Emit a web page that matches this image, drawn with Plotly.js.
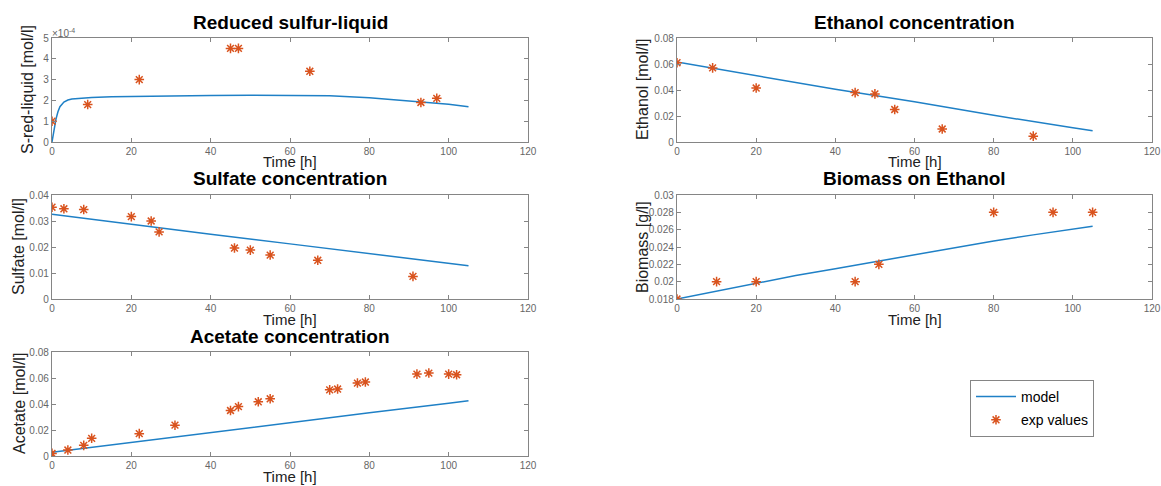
<!DOCTYPE html>
<html>
<head>
<meta charset="utf-8">
<script src="https://cdn.plot.ly/plotly-3.0.1.min.js"></script>
<style>html,body{margin:0;padding:0;background:#fff;}#chart{width:1161px;height:486px;}</style>
</head>
<body>
<div id="chart"></div>
<script>
// ---- Data ----
const timeTicks = [0, 20, 40, 60, 80, 100, 120];

// Reduced sulfur-liquid [mol/l]
const sredModelT = [0, 0.5, 1, 1.5, 2, 3, 4, 5, 7, 10, 15, 20, 30, 40, 50, 60, 70, 80, 90, 100, 105];
const sredModelY = [0, 0.6e-4, 1.1e-4, 1.45e-4, 1.7e-4, 1.92e-4, 2.02e-4, 2.07e-4, 2.11e-4, 2.14e-4, 2.17e-4, 2.19e-4, 2.22e-4, 2.24e-4, 2.25e-4, 2.25e-4, 2.22e-4, 2.13e-4, 1.98e-4, 1.82e-4, 1.70e-4];
const sredExpT = [0, 9, 22, 45, 47, 65, 93, 97];
const sredExpY = [1.0e-4, 1.8e-4, 3.0e-4, 4.5e-4, 4.5e-4, 3.4e-4, 1.9e-4, 2.1e-4];
const sredTickVals = [0, 1e-4, 2e-4, 3e-4, 4e-4, 5e-4];
const sredTickText = ['0', '1', '2', '3', '4', '5'];

// Ethanol [mol/l]
const ethModelT = [0, 20, 40, 60, 80, 100, 105];
const ethModelY = [0.0615, 0.051, 0.0405, 0.031, 0.0205, 0.011, 0.0087];
const ethExpT = [0, 9, 20, 45, 50, 55, 67, 90];
const ethExpY = [0.061, 0.057, 0.0415, 0.038, 0.037, 0.025, 0.010, 0.0045];
const ethTickVals = [0, 0.02, 0.04, 0.06, 0.08];
const ethTickText = ['0', '0.02', '0.04', '0.06', '0.08'];

// Sulfate [mol/l]
const sulModelT = [0, 20, 40, 60, 80, 100, 105];
const sulModelY = [0.0326, 0.0287, 0.0249, 0.0212, 0.0175, 0.0137, 0.0128];
const sulExpT = [0, 3, 8, 20, 25, 27, 46, 50, 55, 67, 91];
const sulExpY = [0.0353, 0.0347, 0.0344, 0.0317, 0.030, 0.0258, 0.0196, 0.0188, 0.0169, 0.0149, 0.0087];
const sulTickVals = [0, 0.01, 0.02, 0.03, 0.04];
const sulTickText = ['0', '0.01', '0.02', '0.03', '0.04'];

// Biomass on Ethanol [g/l]
const bioModelT = [0, 10, 20, 30, 40, 50, 60, 70, 80, 90, 100, 105];
const bioModelY = [0.018, 0.0189, 0.0198, 0.0207, 0.0215, 0.0223, 0.0231, 0.0239, 0.0247, 0.0254, 0.0261, 0.0264];
const bioExpT = [0, 10, 20, 45, 51, 80, 95, 105];
const bioExpY = [0.018, 0.020, 0.020, 0.020, 0.022, 0.028, 0.028, 0.028];
const bioTickVals = [0.018, 0.02, 0.022, 0.024, 0.026, 0.028, 0.03];
const bioTickText = ['0.018', '0.02', '0.022', '0.024', '0.026', '0.028', '0.03'];

// Acetate [mol/l]
const aceModelT = [0, 20, 40, 60, 80, 100, 105];
const aceModelY = [0.0028, 0.0105, 0.0183, 0.0258, 0.0332, 0.0406, 0.0425];
const aceExpT = [0, 4, 8, 10, 22, 31, 45, 47, 52, 55, 70, 72, 77, 79, 92, 95, 100, 102];
const aceExpY = [0.002, 0.0046, 0.0082, 0.0136, 0.0172, 0.0237, 0.035, 0.038, 0.0417, 0.044, 0.0509, 0.0515, 0.0561, 0.0569, 0.063, 0.0638, 0.063, 0.0625];
const aceTickVals = [0, 0.02, 0.04, 0.06, 0.08];
const aceTickText = ['0', '0.02', '0.04', '0.06', '0.08'];

const titles = ['Reduced sulfur-liquid', 'Ethanol concentration', 'Sulfate concentration', 'Biomass on Ethanol', 'Acetate concentration'];
const yLabels = ['S-red-liquid [mol/l]', 'Ethanol [mol/l]', 'Sulfate [mol/l]', 'Biomass [g/l]', 'Acetate [mol/l]'];
const xLabel = 'Time [h]';
const legendNames = ['model', 'exp values'];

// ---- Styling / layout ----
const W = 1161, H = 486;
const FONT = 'Liberation Sans, Arial, Helvetica, sans-serif';
const lineColor = '#1f80c6';
const starColor = '#d9531e';
const axisColor = '#858585';
const tickFontColor = '#666666';

// pixel boxes of each axes [left, right, top, bottom]
const boxes = [
  [52, 528, 38, 142],
  [677, 1152, 38, 142],
  [52, 528, 195, 299],
  [677, 1152, 195, 299],
  [52, 528, 352, 456]
];
const yRanges = [[0, 5e-4], [0, 0.08], [0, 0.04], [0.018, 0.03], [0, 0.08]];
const yTV = [sredTickVals, ethTickVals, sulTickVals, bioTickVals, aceTickVals];
const yTT = [sredTickText, ethTickText, sulTickText, bioTickText, aceTickText];
const yLabelX = [28, 643, 19, 643, 19];

const series = [
  [sredModelT, sredModelY, sredExpT, sredExpY],
  [ethModelT, ethModelY, ethExpT, ethExpY],
  [sulModelT, sulModelY, sulExpT, sulExpY],
  [bioModelT, bioModelY, bioExpT, bioExpY],
  [aceModelT, aceModelY, aceExpT, aceExpY]
];

const traces = [];
const layout = {
  width: W, height: H,
  margin: {l: 0, r: 0, t: 0, b: 0},
  paper_bgcolor: '#fff', plot_bgcolor: '#fff',
  font: {family: FONT, color: '#000'},
  showlegend: true,
  legend: {
    x: 970 / W, y: 1 - 380 / H, xanchor: 'left', yanchor: 'top',
    bordercolor: axisColor, borderwidth: 1, bgcolor: '#fff',
    font: {family: FONT, size: 14, color: '#000'},
    itemwidth: 40, tracegroupgap: 2
  },
  annotations: []
};

series.forEach((s, i) => {
  const n = i === 0 ? '' : String(i + 1);
  const b = boxes[i];
  traces.push({
    x: s[0], y: s[1], xaxis: 'x' + n, yaxis: 'y' + n, type: 'scatter', mode: 'lines',
    line: {color: lineColor, width: 1.5}, name: legendNames[0], showlegend: i === 0, legendgroup: 'm'
  });
  traces.push({
    x: s[2], y: s[3], xaxis: 'x' + n, yaxis: 'y' + n, type: 'scatter', mode: 'markers',
    marker: {symbol: 'asterisk-open', size: 8, color: starColor, line: {color: starColor, width: 1.5}},
    name: legendNames[1], showlegend: i === 0, legendgroup: 'e'
  });
  const common = {
    showgrid: false, zeroline: false, showline: true, linecolor: axisColor, linewidth: 1.2,
    mirror: 'ticks', ticks: 'inside', ticklen: 4, tickcolor: axisColor, tickwidth: 1,
    tickfont: {family: FONT, size: 10, color: tickFontColor}
  };
  layout['xaxis' + n] = Object.assign({}, common, {
    domain: [b[0] / W, b[1] / W], range: [0, 120], anchor: 'y' + n,
    tickvals: timeTicks, ticktext: timeTicks.map(String)
  });
  layout['yaxis' + n] = Object.assign({}, common, {
    domain: [1 - b[3] / H, 1 - b[2] / H], range: yRanges[i], anchor: 'x' + n,
    tickvals: yTV[i], ticktext: yTT[i]
  });
  // subplot title
  layout.annotations.push({
    text: titles[i], xref: 'paper', yref: 'paper', x: ((b[0] + b[1]) / 2) / W, y: 1 - (b[2] - 16) / H,
    xanchor: 'center', yanchor: 'middle', showarrow: false,
    font: {family: FONT, size: 19, weight: 'bold', color: '#000'}
  });
  // x label
  layout.annotations.push({
    text: xLabel, xref: 'paper', yref: 'paper', x: ((b[0] + b[1]) / 2) / W, y: 1 - (b[3] + 20) / H,
    xanchor: 'center', yanchor: 'middle', showarrow: false,
    font: {family: FONT, size: 15, color: '#222'}
  });
  // y label
  layout.annotations.push({
    text: yLabels[i], xref: 'paper', yref: 'paper', x: yLabelX[i] / W, y: 1 - ((b[2] + b[3]) / 2) / H,
    xanchor: 'center', yanchor: 'middle', showarrow: false, textangle: -90,
    font: {family: FONT, size: 16, color: '#222'}
  });
});

// exponent label for the first axes
layout.annotations.push({
  text: '×10<sup>-4</sup>', xref: 'paper', yref: 'paper', x: 50 / W, y: 1 - 33 / H,
  xanchor: 'left', yanchor: 'middle', showarrow: false,
  font: {family: FONT, size: 10, color: tickFontColor}
});

Plotly.newPlot('chart', traces, layout, {staticPlot: true, displayModeBar: false});
</script>
</body>
</html>
